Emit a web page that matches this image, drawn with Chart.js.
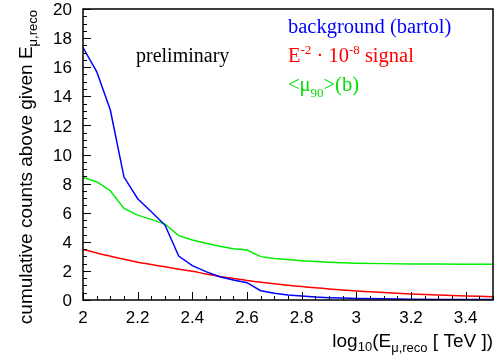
<!DOCTYPE html>
<html>
<head>
<meta charset="utf-8">
<script src="https://cdn.jsdelivr.net/npm/chart.js@4/dist/chart.umd.min.js"></script>
<style>
html,body{margin:0;padding:0;background:#fff;}
#wrap{width:498px;height:361px;position:relative;}
</style>
</head>
<body>
<div id="wrap"><canvas id="c" width="498" height="361"></canvas></div>
<script>
// x positions (log10 E [TeV])
const xValues = [2.0,2.05,2.1,2.15,2.2,2.25,2.3,2.35,2.4,2.45,2.5,2.55,2.6,2.65,2.7,2.75,2.8,2.85,2.9,2.95,3.0,3.1,3.2,3.3,3.4,3.5];
// background (bartol)
const background = [17.35,15.7,13.06,8.45,6.96,6.07,5.15,3.02,2.36,1.95,1.6,1.37,1.19,0.64,0.46,0.35,0.27,0.2,0.16,0.13,0.11,0.08,0.05,0.04,0.03,0.03];
// E^-2 signal
const signal = [3.48,3.23,3.01,2.8,2.6,2.44,2.28,2.12,1.97,1.79,1.62,1.48,1.34,1.22,1.11,1.01,0.92,0.84,0.76,0.69,0.62,0.51,0.42,0.34,0.28,0.23];
// <mu90>(b)
const mu90 = [8.43,8.13,7.51,6.3,5.83,5.54,5.22,4.42,4.12,3.9,3.7,3.53,3.43,2.98,2.86,2.78,2.7,2.64,2.6,2.56,2.53,2.5,2.48,2.47,2.46,2.45];
const xTicks = [2,2.2,2.4,2.6,2.8,3,3.2,3.4];
const yTicks = [0,2,4,6,8,10,12,14,16,18,20];

const SANS = '"Liberation Sans", Arial, sans-serif';
const SERIF = '"Liberation Serif", "Times New Roman", serif';

function pts(ys){ return xValues.map((x,i)=>({x:x,y:ys[i]})); }

function drawRich(ctx, x, y, parts, family, color, align){
  let total = 0;
  parts.forEach(p=>{ ctx.font = p[1]+'px '+family; total += ctx.measureText(p[0]).width; });
  let cx = align==='right' ? x-total : x;
  ctx.fillStyle = color;
  ctx.textBaseline = 'alphabetic';
  ctx.textAlign = 'left';
  parts.forEach(p=>{
    ctx.font = p[1]+'px '+family;
    ctx.fillText(p[0], cx, y + p[2]);
    cx += ctx.measureText(p[0]).width;
  });
  return total;
}

const decor = {
  id:'decor',
  afterDraw(chart){
    const ctx = chart.ctx, a = chart.chartArea;
    const xs = chart.scales.x, ys = chart.scales.y;
    ctx.save();
    ctx.strokeStyle = '#000'; ctx.lineWidth = 1;
    ctx.beginPath();
    for(let i=0; i<=30; i++){
      const v = 2 + i*0.05;
      const px = Math.round(xs.getPixelForValue(v))+0.5;
      const L = (i%4===0) ? 8 : 4;
      ctx.moveTo(px, a.bottom); ctx.lineTo(px, a.bottom - L);
    }
    for(let i=0; i<=40; i++){
      const v = i*0.5;
      const py = Math.round(ys.getPixelForValue(v))+0.5;
      const L = (i%4===0) ? 8 : 4;
      ctx.moveTo(a.left, py); ctx.lineTo(a.left + L, py);
    }
    ctx.stroke();
    ctx.lineWidth = 1.5;
    ctx.strokeRect(a.left, a.top, a.right-a.left, a.bottom-a.top);
    // tick labels
    ctx.fillStyle = '#000';
    ctx.font = '17px '+SANS;
    ctx.textAlign = 'center'; ctx.textBaseline = 'middle';
    xTicks.forEach(v=>{ ctx.fillText(String(v), xs.getPixelForValue(v), a.bottom + 18); });
    ctx.textAlign = 'right';
    yTicks.forEach(v=>{ ctx.fillText(String(v), a.left - 11, ys.getPixelForValue(v) + 1.5); });
    // preliminary
    ctx.font = '20px '+SERIF;
    ctx.textAlign='left'; ctx.textBaseline='alphabetic';
    ctx.fillText('preliminary', 136, 62);
    drawRich(ctx, 288, 33, [['background (bartol)',20.5,0]], SERIF, '#0000ff');
    drawRich(ctx, 288, 62, [['E',20.5,0],['-2',13,-8],[' \u00b7 10',20.5,0],['-8',13,-8],[' signal',20.5,0]], SERIF, '#ff0000');
    drawRich(ctx, 288, 91, [['<\u03bc',20.5,0],['90',13,6],['>(b)',20.5,0]], SERIF, '#00e000');
    drawRich(ctx, 493, 347, [['log',19,0],['10',13,4],['(E',19,0],['\u03bc,reco',13,5],[' [ TeV ])',19,0]], SANS, '#000', 'right');
    ctx.translate(32, 10);
    ctx.rotate(-Math.PI/2);
    drawRich(ctx, 0, 0, [['cumulative counts above given E',19,0],['\u03bc,reco',13,5]], SANS, '#000', 'right');
    ctx.restore();
  }
};

new Chart(document.getElementById('c'), {
  type:'line',
  data:{
    datasets:[
      {label:'background (bartol)', data:pts(background), borderColor:'#0000ff', borderWidth:1.5, pointRadius:0, tension:0, fill:false},
      {label:'signal', data:pts(signal), borderColor:'#ff0000', borderWidth:1.5, pointRadius:0, tension:0.3, fill:false},
      {label:'mu90', data:pts(mu90), borderColor:'#00ee00', borderWidth:1.5, pointRadius:0, tension:0, fill:false}
    ]
  },
  options:{
    responsive:false, animation:false, devicePixelRatio:1,
    layout:{padding:{top:9,right:5,left:0,bottom:0}},
    plugins:{legend:{display:false}, tooltip:{enabled:false}},
    scales:{
      x:{type:'linear', min:2, max:3.5,
         afterFit(s){ s.height = 61; },
         afterBuildTicks(s){ s.ticks = xTicks.map(v=>({value:v})); },
         grid:{display:false}, border:{display:false},
         ticks:{display:false}},
      y:{type:'linear', min:0, max:20,
         afterFit(s){ s.width = 83; },
         afterBuildTicks(s){ s.ticks = yTicks.map(v=>({value:v})); },
         grid:{display:false}, border:{display:false},
         ticks:{display:false}}
    }
  },
  plugins:[decor]
});
</script>
</body>
</html>
